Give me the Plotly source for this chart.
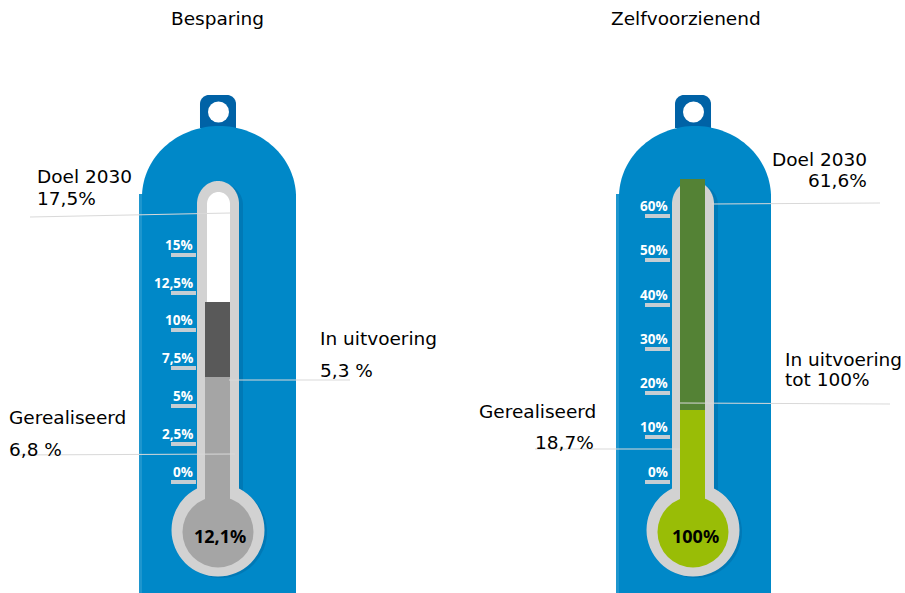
import math
import plotly.graph_objects as go

W, H = 905, 593

# ---- data ----
left_title = "Besparing"
left_ticks = [0, 2.5, 5, 7.5, 10, 12.5, 15]
left_tick_labels = ["0%", "2,5%", "5%", "7,5%", "10%", "12,5%", "15%"]
left_realised = 6.9
left_in_progress = 5.0
left_bulb_label = "12,1%"

right_title = "Zelfvoorzienend"
right_ticks = [0, 10, 20, 30, 40, 50, 60]
right_tick_labels = ["0%", "10%", "20%", "30%", "40%", "50%", "60%"]
right_realised = 16.2
right_in_progress = 52.1
right_bulb_label = "100%"

BLUE, BLUE_DARK, BLUE_SHADE, BLUE_EDGE = "#0088C8", "#0062A6", "#0079B6", "#1E96CE"
TUBE = "#D2D2D2"
LINE = "#D9D9D9"
GREY, DARK_GREY = "#A5A5A5", "#595959"
LIME, GREEN = "#99BD06", "#548235"
TXT = "DejaVu Sans, Verdana, sans-serif"


def px(x):
    return x / W


def py(y):
    return 1 - y / H


def path(points):
    return "M" + " L".join(f"{px(x):.5f},{py(y):.5f}" for x, y in points) + " Z"


def rect(x0, y0, x1, y1, color, layer="below"):
    return dict(type="rect", xref="paper", yref="paper", x0=px(x0), x1=px(x1),
                y0=py(y0), y1=py(y1), fillcolor=color, line_width=0, layer=layer)


def circle(cx, cy, r, color):
    return dict(type="circle", xref="paper", yref="paper", x0=px(cx - r), x1=px(cx + r),
                y0=py(cy + r), y1=py(cy - r), fillcolor=color, line_width=0, layer="below")


def arch(x0, x1, top, spring, bottom, color):
    cx, rx = (x0 + x1) / 2, (x1 - x0) / 2
    ry = spring - top
    pts = [(x0, bottom)]
    for i in range(0, 73):
        a = math.pi - math.pi * i / 72
        pts.append((cx + rx * math.cos(a), spring - ry * math.sin(a)))
    pts.append((x1, bottom))
    return dict(type="path", xref="paper", yref="paper", path=path(pts),
                fillcolor=color, line_width=0, layer="below")


def hanger(x0, x1, y0, y1, r, color):
    pts = [(x0, y1)]
    for i in range(0, 13):
        a = math.pi - math.pi / 2 * i / 12
        pts.append((x0 + r + r * math.cos(a), y0 + r - r * math.sin(a)))
    for i in range(0, 13):
        a = math.pi / 2 - math.pi / 2 * i / 12
        pts.append((x1 - r + r * math.cos(a), y0 + r - r * math.sin(a)))
    pts.append((x1, y1))
    return dict(type="path", xref="paper", yref="paper", path=path(pts),
                fillcolor=color, line_width=0, layer="below")


def seg(x0, y0, x1, y1):
    return dict(type="line", xref="paper", yref="paper", x0=px(x0), x1=px(x1),
                y0=py(y0), y1=py(y1), line=dict(color=LINE, width=1), layer="above")


def thermo(cx, body0, body1, stem_color, white_tube):
    t0, t1 = cx - 21, cx + 21
    s = [
        hanger(cx - 18, cx + 18, 95, 128, 9, BLUE_DARK),
        circle(cx + 0.5, 112, 10.5, "white"),
        rect(body0, 194, body1, 593, BLUE_EDGE),
        arch(body0 + 3, body1, 126, 197, 593, BLUE),
        arch(t0 + 4, t1 + 4, 184, 205, 494, BLUE_SHADE),
        circle(cx + 3, 532, 46, BLUE_SHADE),
        arch(t0, t1, 181, 204, 500, TUBE),
        circle(cx, 530, 46.5, TUBE),
        circle(cx, 532, 35.5, stem_color),
        rect(cx - 13, 480, cx + 12, 510, stem_color),
    ]
    if white_tube:
        s.append(arch(cx - 11, cx + 12, 192, 204, 400, "white"))
    return s


fig = go.Figure()

# plot areas: (left px, right px, top px, bottom px)
Y_TOP, Y_BOTTOM, Y_ZERO = 170, 500, 481.7


def y_range(px_per_unit):
    return [-(Y_BOTTOM - Y_ZERO) / px_per_unit, (Y_ZERO - Y_TOP) / px_per_unit]


panels = [
    ("", 196.5, left_realised, left_in_progress, GREY, DARK_GREY, left_ticks, 15.13),
    ("2", 671, right_realised, right_in_progress, LIME, GREEN, right_ticks, 4.43),
]
for suffix, x_left, real, prog, c1, c2, ticks, scale in panels:
    for val, col, nm in ((real, c1, "Gerealiseerd"), (prog, c2, "In uitvoering")):
        fig.add_trace(go.Bar(x=[0], y=[val], width=25 / 42, marker=dict(color=col, line_width=0),
                             name=nm, xaxis="x" + suffix, yaxis="y" + suffix,
                             showlegend=False, hoverinfo="skip"))
    axis_x = dict(domain=[px(x_left), px(x_left + 42)], range=[-0.5, 0.5], visible=False, fixedrange=True)
    axis_y = dict(domain=[py(Y_BOTTOM), py(Y_TOP)], range=y_range(scale), showgrid=False, zeroline=False,
                  showline=False, tickmode="array", tickvals=ticks, ticks="outside", ticklen=25,
                  tickwidth=3.5, tickcolor="#C4CDD3", showticklabels=False, anchor="x" + suffix, fixedrange=True)
    if suffix:
        axis_y["anchor"] = "x2"
        axis_x["anchor"] = "y2"
        fig.update_layout(xaxis2=axis_x, yaxis2=axis_y)
    else:
        fig.update_layout(xaxis=axis_x, yaxis=axis_y)

shapes = thermo(218, 139, 296, GREY, True) + thermo(693, 616, 771, LIME, False)
shapes += [
    seg(30, 217, 230, 213), seg(229, 380, 350, 380), seg(10, 455, 235, 454),
    seg(712, 204, 880, 203), seg(680, 403, 890, 404), seg(535, 449, 680, 449),
]

ann = []


def text(x, y, s, anchor="left", size=18.5, color="black", family=TXT):
    ann.append(dict(x=px(x), y=py(y), xref="paper", yref="paper", text=s, showarrow=False,
                    xanchor=anchor, yanchor="middle", font=dict(size=size, color=color, family=family),
                    borderpad=0, xshift=0, yshift=0))


text(217.5, 19, left_title, "center")
text(686, 19, right_title, "center")
text(36, 176, "Doel 2030")
text(36, 198, "17,5%")
text(319, 338, "In uitvoering")
text(319, 370, "5,3 %")
text(8, 417, "Gerealiseerd")
text(8, 449, "6,8 %")
text(868, 160, "Doel 2030", "right")
text(868, 181, "61,6%", "right")
text(784, 359, "In uitvoering")
text(784, 379, "tot 100%")
text(478, 411, "Gerealiseerd")
text(595, 442, "18,7%", "right")
text(220, 536, left_bulb_label, "center", 18, "black", "Noto Sans")
text(695, 536, right_bulb_label, "center", 18, "black", "Noto Sans")
ann[-1]["font"]["weight"] = "bold"
ann[-2]["font"]["weight"] = "bold"

for ticks, labels, yref, right_edge in ((left_ticks, left_tick_labels, "y", 194),
                                        (right_ticks, right_tick_labels, "y2", 669)):
    for t, lab in zip(ticks, labels):
        ann.append(dict(x=px(right_edge), xref="paper", y=t, yref=yref, text=lab, showarrow=False,
                        xanchor="right", yanchor="middle", yshift=10, borderpad=0,
                        font=dict(size=13.5, color="white", family="Open Sans", weight="bold")))

fig.update_layout(width=W, height=H, margin=dict(l=0, r=0, t=0, b=0), autosize=False,
                  paper_bgcolor="white", plot_bgcolor="rgba(0,0,0,0)", barmode="stack",
                  shapes=shapes, annotations=ann, showlegend=False)
fig.write_html("out.html", config=dict(displayModeBar=False),
               post_script="document.body.style.margin='0';document.body.style.overflow='hidden';")
